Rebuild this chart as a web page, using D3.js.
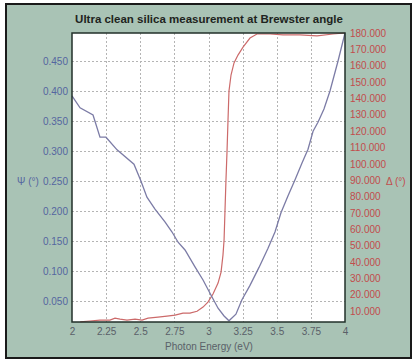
<!DOCTYPE html>
<html>
<head>
<meta charset="utf-8">
<script src="https://cdn.jsdelivr.net/npm/d3@7/dist/d3.min.js"></script>
<style>
  html, body { margin: 0; padding: 0; background: #ffffff; }
  svg { display: block; font-family: "Liberation Sans", Arial, sans-serif; }
</style>
</head>
<body>
<svg id="chart" width="417" height="359"></svg>
<script>
// Photon energy ticks (eV)
const energyTicks = [2, 2.25, 2.5, 2.75, 3, 3.25, 3.5, 3.75, 4];
const psiTicks = [0.05, 0.1, 0.15, 0.2, 0.25, 0.3, 0.35, 0.4, 0.45];
const deltaTicks = [10, 20, 30, 40, 50, 60, 70, 80, 90, 100, 110, 120, 130, 140, 150, 160, 170, 180];

// Psi (deg) vs photon energy
const psiEnergy = [2.000, 2.059, 2.154, 2.205, 2.249, 2.330, 2.454, 2.505, 2.549, 2.608, 2.681, 2.733, 2.777, 2.828, 2.901, 2.960, 3.011, 3.070, 3.114, 3.150, 3.201, 3.245, 3.304, 3.370, 3.436, 3.487, 3.531, 3.582, 3.634, 3.685, 3.729, 3.766, 3.802, 3.846, 3.890, 3.949, 3.985, 4.000];
const psiValues = [0.392, 0.372, 0.360, 0.323, 0.323, 0.302, 0.278, 0.250, 0.223, 0.203, 0.182, 0.165, 0.148, 0.135, 0.107, 0.085, 0.063, 0.038, 0.025, 0.017, 0.028, 0.052, 0.076, 0.106, 0.138, 0.165, 0.197, 0.225, 0.252, 0.280, 0.303, 0.333, 0.348, 0.370, 0.400, 0.450, 0.483, 0.497];

// Delta (deg) vs photon energy
const deltaEnergy = [2.06, 2.13, 2.205, 2.278, 2.315, 2.352, 2.403, 2.462, 2.513, 2.557, 2.630, 2.696, 2.755, 2.813, 2.864, 2.916, 2.960, 2.996, 3.033, 3.070, 3.092, 3.106, 3.114, 3.121, 3.128, 3.136, 3.143, 3.150, 3.165, 3.187, 3.216, 3.253, 3.304, 3.355, 3.451, 3.546, 3.670, 3.795, 3.912, 4.000];
const deltaValues = [3.4, 3.9, 4.5, 4.5, 5.7, 5.1, 4.5, 5.1, 4.5, 5.7, 6.3, 6.9, 7.5, 8.7, 8.7, 9.9, 12.4, 15.5, 20.4, 27.1, 33.8, 44.2, 53.4, 71.7, 90.1, 108.4, 126.8, 144.5, 154.3, 161.7, 166.5, 171.4, 176.9, 179.4, 179.4, 178.8, 178.8, 178.2, 179.4, 180.0];

const svg = d3.select("#chart");
const plot = { left: 72, right: 345, top: 33, bottom: 322 };

// Panel background and frame
svg.append("rect").attr("x", 6).attr("y", 4).attr("width", 405).attr("height", 354)
  .attr("fill", "#a9c3b5").attr("stroke", "#1a1a1a").attr("stroke-width", 2);

const x = d3.scaleLinear().domain([2, 4]).range([plot.left, plot.right]);
const yPsi = d3.scaleLinear().domain([0.015, 0.4967]).range([plot.bottom, plot.top]);
const yDelta = d3.scaleLinear().domain([3.3, 180]).range([plot.bottom, plot.top]);

// Plot area
svg.append("rect").attr("x", plot.left).attr("y", plot.top)
  .attr("width", plot.right - plot.left).attr("height", plot.bottom - plot.top)
  .attr("fill", "#ffffff");

// Grid
const grid = svg.append("g").attr("stroke", "#b4b4b4").attr("stroke-width", 1)
  .attr("stroke-dasharray", "2,2");
grid.selectAll(".gx").data(energyTicks.slice(1, -1)).join("line")
  .attr("x1", d => Math.round(x(d)) + 0.5).attr("x2", d => Math.round(x(d)) + 0.5)
  .attr("y1", plot.top).attr("y2", plot.bottom);
grid.selectAll(".gy").data(psiTicks).join("line")
  .attr("x1", plot.left).attr("x2", plot.right)
  .attr("y1", d => Math.round(yPsi(d)) + 0.5).attr("y2", d => Math.round(yPsi(d)) + 0.5);

// Curves
const psiLine = d3.line().x(d => x(d[0])).y(d => yPsi(d[1]));
const deltaLine = d3.line().x(d => x(d[0])).y(d => yDelta(d[1]));

svg.append("path").datum(d3.zip(deltaEnergy, deltaValues))
  .attr("d", deltaLine).attr("fill", "none")
  .attr("stroke", "#cc6a6a").attr("stroke-width", 1.2);
svg.append("path").datum(d3.zip(psiEnergy, psiValues))
  .attr("d", psiLine).attr("fill", "none")
  .attr("stroke", "#7c7ca6").attr("stroke-width", 1.3);

// Plot border
svg.append("rect").attr("x", plot.left).attr("y", plot.top)
  .attr("width", plot.right - plot.left).attr("height", plot.bottom - plot.top)
  .attr("fill", "none").attr("stroke", "#22302a").attr("stroke-width", 1.5);

// Bottom axis
const xAxis = d3.axisBottom(x).tickValues(energyTicks).tickSize(0).tickPadding(6)
  .tickFormat(d => String(d));
const gx = svg.append("g").attr("transform", `translate(0,${plot.bottom})`).call(xAxis);
gx.select(".domain").remove();
gx.selectAll("text").attr("fill", "#5a6068").attr("font-size", 10)
  .attr("font-family", "'Liberation Sans', Arial, sans-serif");

// Left axis (Psi)
const yAxisL = d3.axisLeft(yPsi).tickValues(psiTicks).tickSize(0).tickPadding(4)
  .tickFormat(d3.format(".3f"));
const gl = svg.append("g").attr("transform", `translate(${plot.left},0)`).call(yAxisL);
gl.select(".domain").remove();
gl.selectAll("text").attr("fill", "#5566a0").attr("font-size", 10)
  .attr("font-family", "'Liberation Sans', Arial, sans-serif");

// Right axis (Delta)
const yAxisR = d3.axisRight(yDelta).tickValues(deltaTicks).tickSize(0).tickPadding(5)
  .tickFormat(d3.format(".3f"));
const gr = svg.append("g").attr("transform", `translate(${plot.right},0)`).call(yAxisR);
gr.select(".domain").remove();
gr.selectAll("text").attr("fill", "#c24c4c").attr("font-size", 10)
  .attr("font-family", "'Liberation Sans', Arial, sans-serif");

// Titles
svg.append("text").attr("x", 209).attr("y", 23).attr("text-anchor", "middle")
  .attr("font-size", 11.5).attr("font-weight", "bold").attr("fill", "#1e2420")
  .text("Ultra clean silica measurement at Brewster angle");
svg.append("text").attr("x", 209).attr("y", 350).attr("text-anchor", "middle")
  .attr("font-size", 10).attr("fill", "#5a6068").text("Photon Energy (eV)");
svg.append("text").attr("x", 17).attr("y", 185)
  .attr("font-size", 10).attr("fill", "#5566a0").text("Ψ (°)");
svg.append("text").attr("x", 386).attr("y", 185)
  .attr("font-size", 10).attr("fill", "#c24c4c").text("Δ (°)");
</script>
</body>
</html>
